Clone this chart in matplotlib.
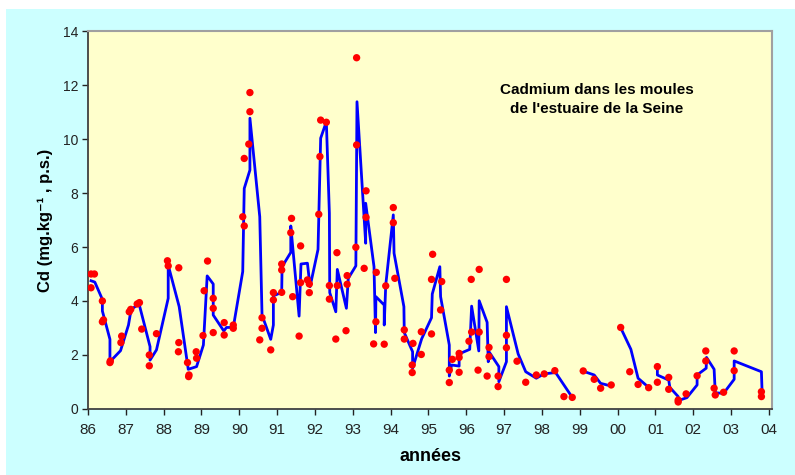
import numpy as np
import matplotlib
matplotlib.use("Agg")
import matplotlib.pyplot as plt
from matplotlib.patches import Rectangle

plt.rcParams["font.family"] = ["Liberation Sans", "DejaVu Sans"]

# individual measurements (year since 1900, Cd mg/kg dry weight)
obs_year = [
    86.08, 86.17, 86.08, 86.38, 86.38, 86.41, 86.58, 86.59, 86.87, 86.89,
    87.09, 87.13, 87.30, 87.36, 87.42, 87.62, 87.62, 87.81, 88.10, 88.12,
    88.40, 88.40, 88.39, 88.63, 88.67, 88.66, 88.86, 88.87, 89.04, 89.07,
    89.16, 89.31, 89.31, 89.31, 89.60, 89.60, 89.84, 89.84, 90.09, 90.13,
    90.13, 90.25, 90.28, 90.28, 90.60, 90.60, 90.54, 90.83, 90.90, 90.90,
    91.12, 91.12, 91.12, 91.38, 91.36, 91.41, 91.58, 91.62, 91.62, 91.80,
    91.85, 91.85, 92.10, 92.13, 92.15, 92.30, 92.38, 92.38, 92.59, 92.58,
    92.55, 92.85, 92.85, 92.82, 93.08, 93.10, 93.10, 93.35, 93.35, 93.30,
    93.62, 93.61, 93.55, 93.83, 93.87, 94.07, 94.07, 94.11, 94.36, 94.36,
    94.59, 94.57, 94.57, 94.81, 94.81, 95.08, 95.11, 95.08, 95.35, 95.32,
    95.55, 95.55, 95.63, 95.81, 95.81, 95.81, 96.13, 96.34, 96.14, 96.34,
    96.07, 96.31, 96.60, 96.60, 96.55, 96.84, 96.84, 97.06, 97.06, 97.06,
    97.34, 97.57, 97.85, 98.06, 98.34, 98.58, 98.80, 99.09, 99.38, 99.55,
    99.83, 100.08, 100.32, 100.54, 100.82, 101.05, 101.05, 101.35, 101.35, 101.60,
    101.60, 101.81, 102.10, 102.33, 102.33, 102.55, 102.58, 102.80, 103.08, 103.08,
    103.80, 103.80,
]
obs_cd = [
    5.00, 5.00, 4.49, 4.00, 3.23, 3.30, 1.72, 1.78, 2.46, 2.70,
    3.60, 3.69, 3.89, 3.94, 2.96, 2.00, 1.60, 2.79, 5.49, 5.30,
    5.23, 2.46, 2.12, 1.72, 1.26, 1.20, 2.12, 1.88, 2.72, 4.38,
    5.48, 4.10, 3.73, 2.83, 3.20, 2.74, 3.11, 2.99, 7.12, 6.78,
    9.28, 9.81, 11.01, 11.72, 3.38, 2.99, 2.56, 2.19, 4.31, 4.04,
    5.37, 5.15, 4.32, 7.06, 6.53, 4.16, 2.70, 6.04, 4.68, 4.78,
    4.63, 4.31, 7.21, 9.35, 10.70, 10.62, 4.57, 4.07, 4.57, 5.79,
    2.59, 4.94, 4.62, 2.90, 5.99, 9.78, 13.01, 8.08, 7.10, 5.21,
    5.06, 3.23, 2.41, 2.40, 4.56, 7.46, 6.90, 4.84, 2.93, 2.59,
    2.43, 1.63, 1.35, 2.86, 2.02, 2.78, 5.73, 4.80, 4.72, 3.67,
    1.44, 0.98, 1.84, 2.06, 1.91, 1.36, 4.80, 5.17, 2.85, 2.85,
    2.51, 1.44, 2.28, 1.94, 1.22, 1.22, 0.83, 4.80, 2.73, 2.27,
    1.77, 0.99, 1.26, 1.30, 1.42, 0.46, 0.43, 1.41, 1.10, 0.77,
    0.89, 3.02, 1.38, 0.91, 0.79, 1.57, 0.99, 1.17, 0.73, 0.33,
    0.26, 0.56, 1.23, 2.15, 1.78, 0.77, 0.52, 0.62, 2.15, 1.42,
    0.64, 0.46,
]

# smoothed trend (NaN breaks the curve between sampling campaigns)
trend_year = [
    86.08, 86.18, 86.38, 86.38, 86.58, 86.58, 86.86, 87.07, 87.14, 87.35,
    87.64, 87.64, 87.81, 88.12, 88.12, 88.41, 88.65, 88.87, 89.05, 89.15,
    89.31, 89.31, 89.59, 89.66, 89.84, 90.09, 90.13, 90.28, 90.28, 90.54,
    90.60, 90.83, 90.90, 90.90, 91.12, 91.13, 91.36, 91.36, 91.58, 91.63,
    91.80, 91.87, 92.08, 92.15, 92.30, 92.38, 92.39, 92.55, 92.59, 92.83,
    92.88, 93.08, 93.11, 93.34, 93.34, 93.56, 93.60, 93.61, 93.83, 93.83,
    93.87, 94.07, 94.09, 94.35, 94.36, 94.58, 94.58, 94.82, 95.08, 95.10,
    95.30, 95.32, 95.55, 95.55, 95.61, 95.81, 95.81, 96.09, 96.14, 96.33,
    96.34, 96.55, 96.58, 96.60, 96.86, 96.86, 97.06, 97.06, 97.37, 97.57,
    97.85, 98.05, 98.36, 98.80, np.nan,
    99.07, 99.38, 99.55, 99.83, np.nan,
    100.08, 100.35, 100.54, 100.82, np.nan,
    101.05, 101.05, 101.35, 101.38, 101.60, 101.60, 101.83, 102.10, 102.10, 102.34,
    102.35, 102.55, 102.58, 102.80, 103.08, 103.08, 103.80, 103.82,
]
trend_cd = [
    4.75, 4.70, 4.06, 3.63, 2.58, 1.75, 2.16, 3.11, 3.69, 3.89,
    2.31, 1.81, 2.19, 4.10, 5.33, 3.79, 1.47, 1.57, 2.37, 4.93,
    4.63, 3.48, 2.89, 3.02, 3.02, 5.09, 8.17, 8.85, 10.77, 7.12,
    3.48, 2.58, 3.11, 4.19, 4.32, 5.27, 5.80, 6.78, 3.44, 5.37,
    5.40, 4.53, 5.91, 10.03, 10.64, 7.25, 4.31, 3.60, 5.17, 3.73,
    4.84, 5.30, 11.38, 6.14, 7.62, 5.27, 2.83, 4.16, 3.85, 3.11,
    4.59, 7.19, 5.77, 3.79, 2.83, 2.12, 1.51, 2.60, 3.38, 4.26,
    5.27, 4.16, 2.37, 1.22, 1.63, 1.59, 2.04, 2.21, 3.81, 2.15,
    4.01, 3.21, 1.75, 2.12, 1.57, 1.01, 1.75, 3.79, 2.04, 1.38,
    1.14, 1.30, 1.35, 0.43, np.nan,
    1.41, 1.26, 0.95, 0.85, np.nan,
    3.01, 2.21, 1.14, 0.80, np.nan,
    1.57, 1.26, 1.07, 0.80, 0.46, 0.31, 0.42, 0.89, 1.26, 1.51,
    1.91, 1.47, 0.60, 0.58, 1.10, 1.78, 1.38, 0.56,
]

year_ticks = list(range(86, 105))
year_labels = [f"{t % 100:02d}" for t in year_ticks]

fig = plt.figure(figsize=(7.95, 4.75), dpi=100, facecolor="white")
fig.patches.append(Rectangle((6 / 795, 0), 1, 466 / 475, transform=fig.transFigure,
                             facecolor="#CCFFFF", edgecolor="none", zorder=-10))

ax = fig.add_axes([88 / 795, 66 / 475, 684 / 795, 378 / 475])
ax.set_facecolor("#FFFFCC")

ax.plot(trend_year, trend_cd, color="#0000FF", linewidth=2.0, zorder=2)
ax.scatter(obs_year, obs_cd, s=28, color="#FF0000", edgecolors="none", zorder=3)

ax.set_xlim(86, 104.08)
ax.set_ylim(0, 14)
ax.set_xticks(year_ticks)
ax.set_xticklabels(year_labels)
ax.set_yticks(range(0, 15, 2))
ax.tick_params(axis="x", direction="out", length=4, width=1, labelsize=11, pad=6, colors="#222222")
ax.tick_params(axis="y", direction="out", length=4, width=1, labelsize=10, pad=3, colors="#222222")

for side in ("left", "bottom"):
    ax.spines[side].set_color("#404040")
    ax.spines[side].set_linewidth(1.3)
for side in ("top", "right"):
    ax.spines[side].set_color("#A0A0A0")
    ax.spines[side].set_linewidth(1.5)

ax.set_xlabel("années", fontsize=13, fontweight="bold", labelpad=8)
ax.set_ylabel("Cd (mg.kg\u207b\u00b9 , p.s.)", fontsize=12, fontweight="bold", labelpad=7)

ax.text(0.744, 0.818, "Cadmium dans les moules\nde l'estuaire de la Seine",
        transform=ax.transAxes, ha="center", va="center", fontsize=11,
        fontweight="bold", linespacing=1.45)

fig.savefig("out.png", dpi=100)
